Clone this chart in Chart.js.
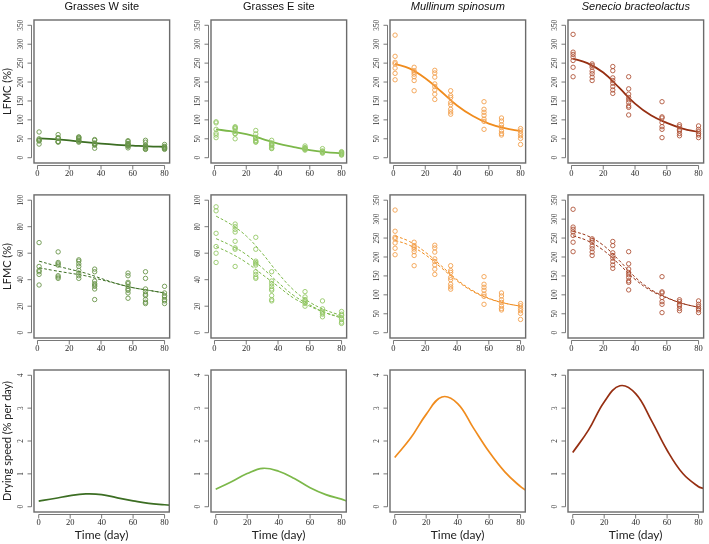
<!DOCTYPE html>
<html>
<head>
<meta charset="utf-8">
<script src="https://cdn.jsdelivr.net/npm/chart.js@4.4.1/dist/chart.umd.min.js"></script>
<style>
  html, body { margin: 0; padding: 0; background: #fff; }
  body { width: 709px; height: 544px; position: relative; overflow: hidden; }
  canvas { position: absolute; }
</style>
</head>
<body>
<script>
// sampling days and tick labels
const days = [1, 13, 26, 36, 57, 68, 80];
const fitDays = [1, 10, 20, 30, 40, 50, 60, 70, 80];
const speedDays = [0, 10, 20, 30, 40, 50, 60, 70, 80, 83];
const dayTicks = [0, 20, 40, 60, 80];
const lfmcTicks = [0, 50, 100, 150, 200, 250, 300, 350];
const pctTicks = [0, 20, 40, 60, 80, 100];
const speedTicks = [0, 1, 2, 3, 4];

const titles = ['Grasses W site', 'Grasses E site', 'Mullinum spinosum', 'Senecio bracteolactus'];

// observed LFMC (%) per sampling day
const gwObs = [
  [68, 50, 47, 46, 44, 36],
  [61, 53, 52, 51, 43, 42, 41],
  [55, 54, 52, 50, 47, 45, 43, 41],
  [48, 46, 39, 37, 36, 35, 33, 25],
  [45, 43, 38, 37, 35, 33, 32, 30, 26],
  [46, 41, 33, 31, 29, 28, 25, 23, 22],
  [35, 30, 28, 27, 25, 24, 22]
];
const geObs = [
  [95, 92, 75, 65, 60, 53],
  [82, 80, 78, 76, 69, 64, 63, 50],
  [72, 63, 54, 53, 52, 51, 46, 44, 42, 41],
  [46, 39, 37, 35, 33, 32, 28, 25, 24],
  [31, 27, 25, 24, 23, 22, 20],
  [24, 18, 16, 15, 14, 12],
  [16, 14, 13, 11, 10, 8, 7]
];
const msObs = [
  [324, 268, 252, 248, 237, 223, 206],
  [239, 230, 226, 221, 214, 204, 177],
  [231, 224, 213, 195, 188, 179, 168, 154],
  [177, 164, 159, 146, 140, 128, 121, 115],
  [148, 128, 120, 112, 102, 96, 75],
  [105, 97, 87, 80, 71, 64, 60],
  [77, 71, 64, 58, 51, 35]
];
const sbObs = [
  [326, 279, 273, 266, 257, 239, 214],
  [248, 244, 239, 229, 222, 213, 204],
  [241, 230, 211, 204, 197, 188, 179, 170],
  [214, 182, 168, 159, 153, 146, 137, 133, 113],
  [148, 108, 105, 93, 82, 75, 53],
  [87, 82, 75, 71, 64, 58],
  [84, 75, 69, 64, 60, 53]
];

// fitted curves (row 1)
const gwFit = [51, 49, 46, 41, 37, 34, 32, 30, 29];
const geFit = [75, 70, 62, 50, 37, 28, 20, 15, 12];
const msFit = [248, 236, 210, 175, 138, 110, 90, 78, 70];
const sbFit = [262, 250, 225, 185, 143, 112, 92, 77, 68];

// per-group fits (row 2, dashed)
const gwFitA = [54, 51, 48, 45, 41, 37, 34, 32, 30];
const gwFitB = [49, 47, 45, 43, 40, 37, 34, 32, 30];
const geFitA = [88, 82, 73, 60, 45, 32, 23, 17, 13];
const geFitB = [71, 66, 59, 49, 38, 28, 21, 15, 12];
const geFitC = [65, 60, 53, 44, 35, 26, 20, 15, 11];
const msFitA = [256, 241, 213, 177, 140, 111, 91, 78, 70];
const msFitB = [244, 231, 206, 172, 137, 109, 90, 78, 70];
const sbFitA = [268, 256, 231, 191, 147, 114, 93, 77, 67];
const sbFitB = [256, 243, 218, 181, 141, 111, 92, 77, 67];

// drying speed (% per day, row 3)
const gwSpeed = [0.17, 0.25, 0.34, 0.39, 0.37, 0.27, 0.18, 0.10, 0.06, 0.05];
const geSpeed = [0.53, 0.76, 1.01, 1.17, 1.08, 0.86, 0.58, 0.37, 0.23, 0.18];
const msSpeed = [1.50, 2.08, 2.81, 3.34, 3.14, 2.40, 1.67, 1.06, 0.61, 0.51];
const sbSpeed = [1.65, 2.33, 3.19, 3.68, 3.44, 2.63, 1.72, 1.01, 0.61, 0.56];

const lineColors = ['#3c6e23', '#7cb84a', '#f08c1e', '#962f12'];
const pointColors = ['#6a954b', '#95c868', '#f3a04e', '#b0553a'];

const allObs = [gwObs, geObs, msObs, sbObs];
const allFit = [gwFit, geFit, msFit, sbFit];
const allGroupFits = [[gwFitA, gwFitB], [geFitA, geFitB, geFitC], [msFitA, msFitB], [sbFitA, sbFitB]];
const allSpeed = [gwSpeed, geSpeed, msSpeed, sbSpeed];

// panel boxes in page pixels
const colLeft = [34, 211, 390, 568];
const boxW = 140;
const rowTop = [20, 194, 370];
const boxH = [143, 144, 142];

function obsPoints(obs) {
  const pts = [];
  obs.forEach((vals, i) => vals.forEach(v => pts.push({ x: days[i], y: v })));
  return pts;
}
function curve(xs, ys) {
  return xs.map((x, i) => ({ x: x, y: ys[i] }));
}

// R-style box, axis lines, tick marks and rotated y labels
const rAxes = {
  id: 'rAxes',
  afterDraw(chart) {
    const { ctx, chartArea: a } = chart;
    const xs = chart.scales.x, ys = chart.scales.y;
    ctx.save();
    ctx.strokeStyle = '#6b6b6b';
    ctx.lineWidth = 1.4;
    ctx.strokeRect(a.left, a.top, a.right - a.left, a.bottom - a.top);

    ctx.strokeStyle = '#555';
    ctx.lineWidth = 0.8;
    // x axis
    const xp = xs.ticks.map(t => xs.getPixelForValue(t.value));
    const yb = a.bottom + 2.5;
    ctx.beginPath();
    ctx.moveTo(xp[0], yb); ctx.lineTo(xp[xp.length - 1], yb);
    xp.forEach(p => { ctx.moveTo(p, yb); ctx.lineTo(p, yb + 4); });
    ctx.stroke();
    // y axis
    const yp = ys.ticks.map(t => ys.getPixelForValue(t.value));
    const xl = a.left - 2.5;
    ctx.beginPath();
    ctx.moveTo(xl, yp[0]); ctx.lineTo(xl, yp[yp.length - 1]);
    yp.forEach(p => { ctx.moveTo(xl, p); ctx.lineTo(xl - 4, p); });
    ctx.stroke();

    ctx.fillStyle = '#2a2a2a';
    ctx.font = '9px "Liberation Serif", serif';
    ctx.textAlign = 'center';
    ctx.textBaseline = 'middle';
    ys.ticks.forEach((t, i) => {
      ctx.save();
      ctx.translate(xl - 10.5, yp[i]);
      ctx.rotate(-Math.PI / 2);
      ctx.scale(0.8, 1);
      ctx.fillText(String(t.value), 0, 0);
      ctx.restore();
    });
    ctx.restore();
  }
};

function makePanel(r, c) {
  const left = c === 0 ? 0 : colLeft[c] - 30;
  const L = colLeft[c] - left;
  const R = 1;
  const top = r === 0 ? 0 : rowTop[r] - 4;
  const T = r === 0 ? 0 : rowTop[r] - top;
  const B = r === 2 ? 32 : 20;
  const w = L + boxW + R;
  const h = (rowTop[r] - top) + boxH[r] + B;

  const cv = document.createElement('canvas');
  cv.width = w; cv.height = h;
  cv.style.left = left + 'px'; cv.style.top = top + 'px';
  cv.style.width = w + 'px'; cv.style.height = h + 'px';
  document.body.appendChild(cv);

  const datasets = [];
  let yMin, yMax, yTicks;
  if (r < 2) {
    datasets.push({
      type: 'scatter',
      data: obsPoints(allObs[c]),
      pointStyle: 'circle',
      pointRadius: 2.2,
      borderWidth: 0.9,
      borderColor: pointColors[c],
      backgroundColor: 'rgba(0,0,0,0)'
    });
    const fits = r === 0 ? [allFit[c]] : allGroupFits[c];
    fits.forEach(f => datasets.push({
      type: 'line',
      data: curve(fitDays, f),
      borderColor: lineColors[c],
      borderWidth: r === 0 ? 1.8 : 1,
      borderDash: r === 0 ? [] : [3, 2],
      pointRadius: 0,
      fill: false,
      tension: 0.4
    }));
    if (r === 1 && c < 2) { yTicks = pctTicks; yMin = -4; yMax = 104; }
    else { yTicks = lfmcTicks; yMin = -14; yMax = 364; }
  } else {
    datasets.push({
      type: 'line',
      data: curve(speedDays, allSpeed[c]),
      borderColor: lineColors[c],
      borderWidth: 1.7,
      pointRadius: 0,
      fill: false,
      tension: 0.4
    });
    yTicks = speedTicks; yMin = -0.16; yMax = 4.16;
  }

  const yTitle = r === 2 ? 'Drying speed (% per day)' : 'LFMC (%)';

  new Chart(cv.getContext('2d'), {
    type: 'scatter',
    data: { datasets: datasets },
    options: {
      responsive: false,
      animation: false,
      devicePixelRatio: 1,
      layout: { padding: { left: 0, top: T, right: R, bottom: 0 } },
      plugins: {
        legend: { display: false },
        tooltip: { enabled: false },
        title: {
          display: r === 0,
          text: titles[c],
          fullSize: false,
          color: '#111',
          font: { family: '"Liberation Sans", Arial, sans-serif', size: 11, style: c >= 2 ? 'italic' : 'normal', weight: 'normal', lineHeight: 1.2 },
          padding: { top: 0.5, bottom: 6.3 }
        }
      },
      scales: {
        x: {
          type: 'linear',
          min: r === 2 ? -3 : -2.2,
          max: r === 2 ? 83 : 83.2,
          afterBuildTicks: s => { s.ticks = dayTicks.map(v => ({ value: v })); },
          afterFit: s => { s.height = B; },
          grid: { display: false, drawTicks: false },
          border: { display: false },
          ticks: { autoSkip: false, maxRotation: 0, padding: 6, color: '#2a2a2a', font: { family: '"Liberation Serif", serif', size: 8.5 } },
          title: {
            display: r === 2,
            text: 'Time (day)',
            color: '#222',
            font: { family: 'Lato, sans-serif', size: 12, lineHeight: 1.2 },
            padding: { top: 0, bottom: 2 }
          }
        },
        y: {
          type: 'linear',
          min: yMin,
          max: yMax,
          afterBuildTicks: s => { s.ticks = yTicks.map(v => ({ value: v })); },
          afterFit: s => { s.width = L; },
          grid: { display: false, drawTicks: false },
          border: { display: false },
          ticks: { display: false },
          title: {
            display: c === 0,
            text: yTitle,
            color: '#222',
            font: { family: 'Lato, sans-serif', size: 11, lineHeight: 1.2 },
            padding: { top: 0.5, bottom: 0 }
          }
        }
      }
    },
    plugins: [rAxes]
  });
}

for (let r = 0; r < 3; r++) {
  for (let c = 0; c < 4; c++) makePanel(r, c);
}
</script>
</body>
</html>
